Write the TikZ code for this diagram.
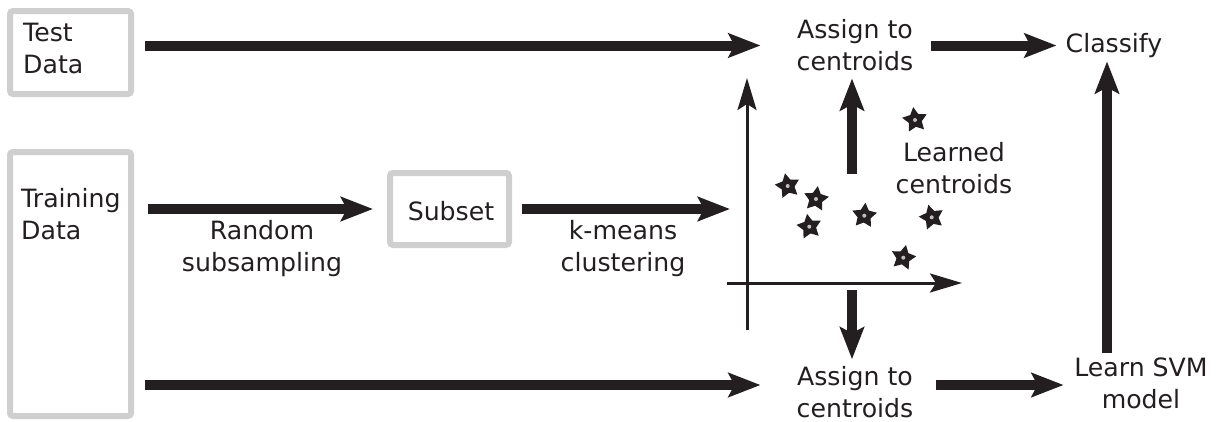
\documentclass[tikz,border=0pt]{standalone}
\usepackage{fontspec}
\setmainfont{DejaVu Sans}
\usetikzlibrary{arrows.meta,shapes.geometric}
\definecolor{ink}{HTML}{231F20}
\definecolor{boxgray}{HTML}{CFCFCF}
\tikzset{
  lbl/.style={text=ink,font=\fontsize{25.2}{32}\selectfont,align=center,inner sep=3pt},
  databox/.style={draw=boxgray,line width=6pt,rounded corners=3pt,inner sep=0pt},
  bigarrow/.style={draw=ink,line width=10pt,-{Stealth[length=32pt,width=24pt,inset=6pt]}},
  axisarrow/.style={draw=ink,line width=3pt,-{Stealth[length=32pt,width=19pt,inset=6pt]}},
  centroid/.style={star,star points=5,star point ratio=1.9,minimum size=26pt,inner sep=0pt,fill=ink}
}
\begin{document}
\begin{tikzpicture}[x=1pt,y=-1pt]
\useasboundingbox (0,0) rectangle (1216,421);
%boxes
\node[databox,minimum width=121pt,minimum height=83pt] (test) at (70.5,52.5) {};
\node[lbl,align=left,anchor=west,inner sep=0pt] (testtxt) at (23,48.7) {Test\\Data};
\node[databox,minimum width=121pt,minimum height=264pt] (train) at (70.5,284) {};
\node[lbl,align=left,anchor=west,inner sep=0pt] (traintxt) at (21,213.7) {Training\\Data};
\node[databox,minimum width=119pt,minimum height=72pt] (subset) at (449.5,209) {};
\node[lbl] (subsettxt) at (451,210.7) {Subset};
%labels
\node[lbl] (random) at (262,248.6) {Random\\subsampling};
\node[lbl] (kmeans) at (623,248.6) {k-means\\clustering};
\node[lbl] (learned) at (954,167.7) {Learned\\centroids};
\node[lbl] (assigntop) at (855,45.5) {Assign to\\centroids};
\node[lbl] (assignbot) at (855,391.7) {Assign to\\centroids};
\node[lbl] (classify) at (1114,46) {Classify};
\node[lbl] (svm) at (1141,383.7) {Learn SVM\\model};
\coordinate (rowbot) at (0,385);
\coordinate (kin) at (730,209);
\coordinate (cup) at (852,174);
\coordinate (cdown) at (852,290);
\coordinate (svmup) at (1107,353);
%axis
\coordinate (yaxbot) at (747,330);
\coordinate (yaxtop) at (747,78);
\coordinate (xaxl) at (727,283);
\coordinate (xaxr) at (962,283);
\draw[axisarrow] (yaxbot) -- (yaxtop);
\draw[axisarrow] (xaxl) -- (xaxr);
%centroids
\foreach \x/\y/\r [count=\i] in {787.7/186/12,816/199/-8,809.3/226.7/10,864.3/215.7/-5,931.7/217.3/15,903.3/257.7/-12,915/120/8}{
  \node[centroid,rotate=\r] (c\i) at (\x,\y) {};
  \fill[boxgray!80!gray] (c\i) circle (2pt);
}
%arrows
\draw[bigarrow,shorten <=11pt,shorten >=33pt] (test.east |- assigntop.west) -- (assigntop.west);
\draw[bigarrow,shorten <=14pt,shorten >=14pt] (train.east |- subset) -- (subset.west);
\draw[bigarrow,shorten <=10pt] (subset.east) -- (kin);
\draw[bigarrow,shorten <=11pt,shorten >=33pt] (train.east |- rowbot) -- (assignbot.west |- rowbot);
\draw[bigarrow,shorten >=4pt] (cup) -- (cup |- assigntop.south);
\draw[bigarrow,shorten >=3.5pt] (cdown) -- (cdown |- assignbot.north);
\draw[bigarrow,shorten <=15pt,shorten >=6pt] (assigntop.east) -- (classify.west |- assigntop.east);
\draw[bigarrow,shorten <=20pt,shorten >=7.5pt] (assignbot.east |- rowbot) -- (svm.west |- rowbot);
\draw[bigarrow] (svmup) -- (svmup |- classify.south);
\end{tikzpicture}
\end{document}
